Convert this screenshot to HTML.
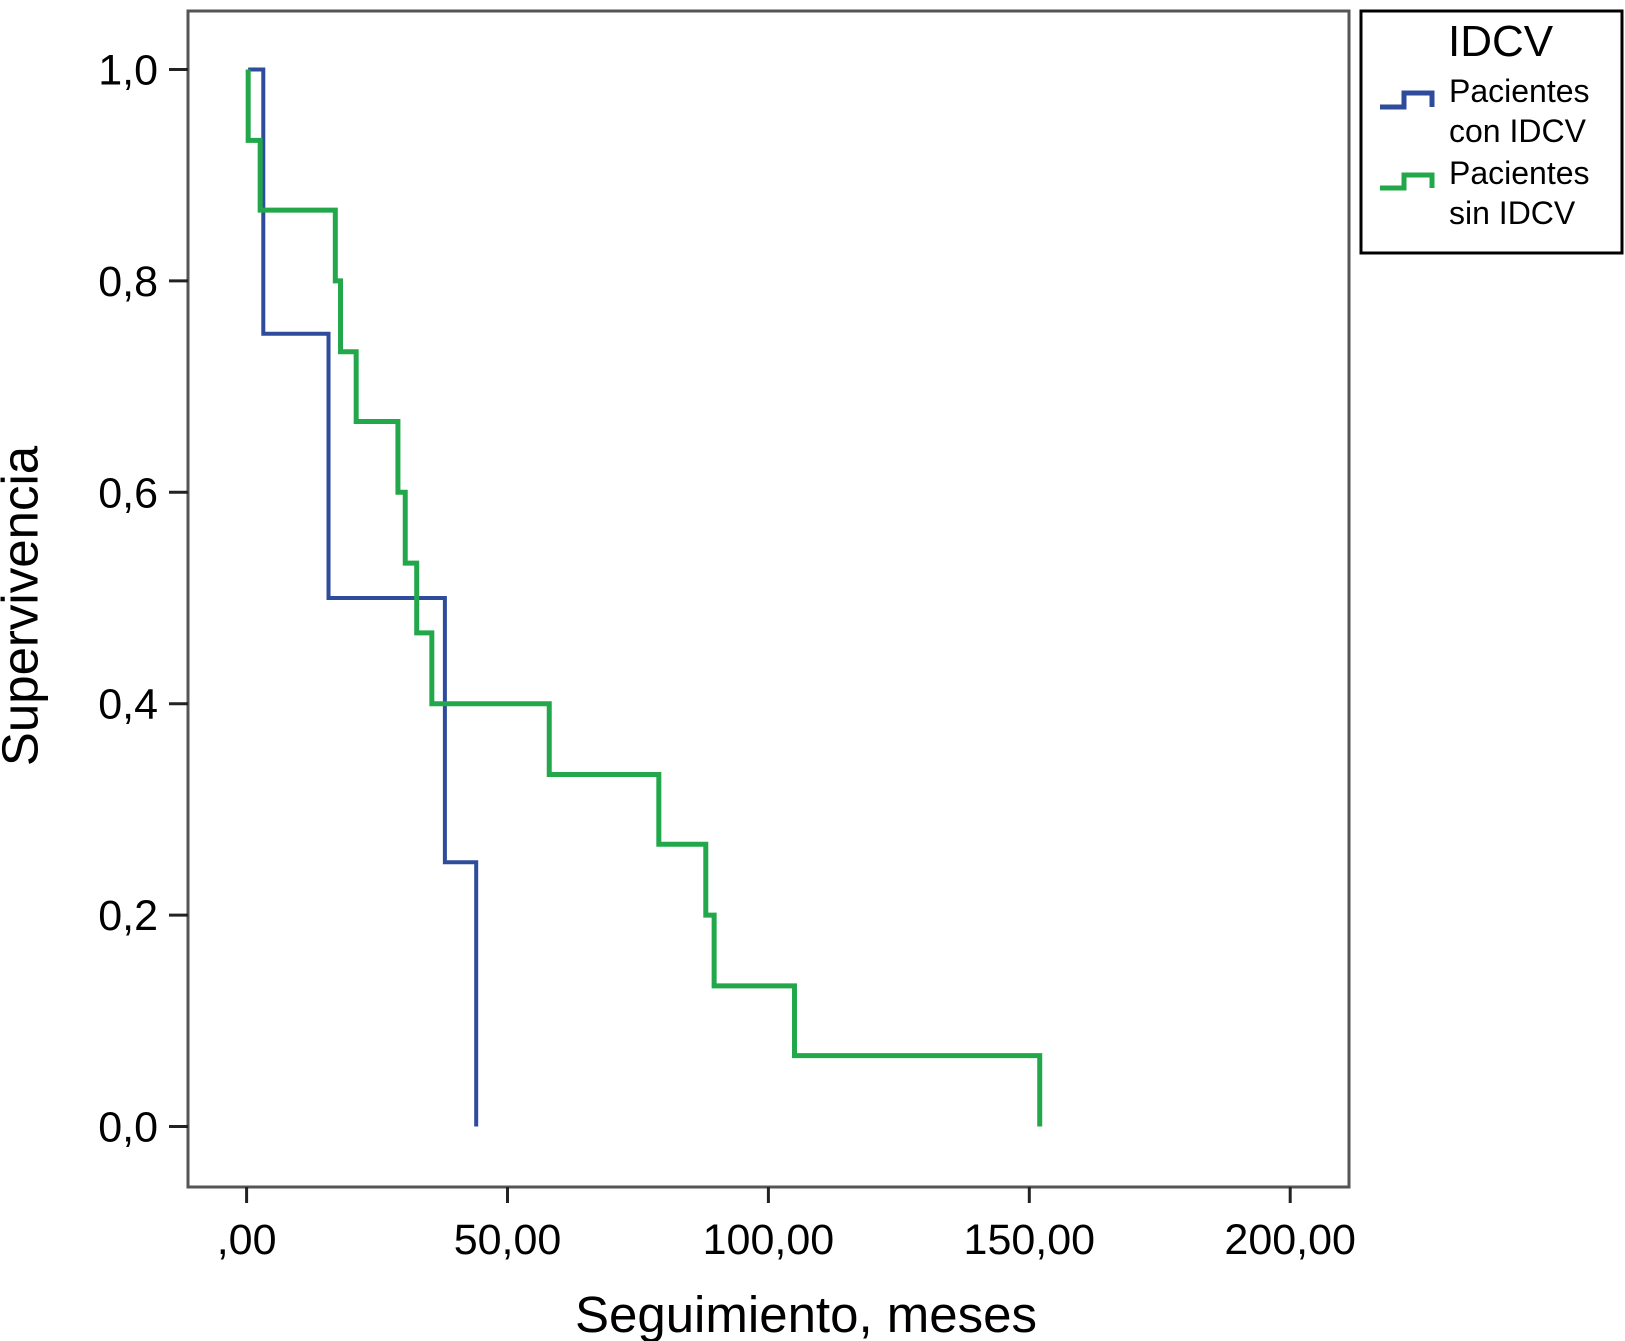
<!DOCTYPE html>
<html><head><meta charset="utf-8"><style>
body{margin:0;background:#fff;}
svg{display:block;font-family:"Liberation Sans",sans-serif;}
</style></head><body>
<svg width="1625" height="1341" viewBox="0 0 1625 1341">
<rect x="188" y="11" width="1161" height="1176" fill="none" stroke="#555" stroke-width="3"/>
<g id="axes"></g>
<g id="series"></g>
<text x="24" y="606" font-size="51" text-anchor="middle" transform="rotate(-90 24 606)" dominant-baseline="middle">Supervivencia</text>
<text x="806" y="1332" font-size="51" text-anchor="middle">Seguimiento, meses</text>
<g>
<rect x="1361" y="11" width="261" height="242" fill="#fff" stroke="#000" stroke-width="3"/>
<text x="1448" y="56" font-size="44">IDCV</text>
<path d="M1380 107 H1404 V93 H1432 V107" fill="none" stroke="#2e4b9c" stroke-width="5"/>
<text x="1449" y="102" font-size="32">Pacientes</text>
<text x="1449" y="142" font-size="32">con IDCV</text>
<path d="M1380 188 H1404 V175 H1432 V188" fill="none" stroke="#22a84a" stroke-width="5"/>
<text x="1449" y="184" font-size="32">Pacientes</text>
<text x="1449" y="224" font-size="32">sin IDCV</text>
</g>
</svg>
<script>
const xTicks=[0,50,100,150,200];
const xTickLabels=[",00","50,00","100,00","150,00","200,00"];
const yTicks=[0,0.2,0.4,0.6,0.8,1.0];
const yTickLabels=["0,0","0,2","0,4","0,6","0,8","1,0"];
const conTimes=[0.3,3.2,15.7,38,44];
const conSurv=[1.0,0.75,0.5,0.25,0.0];
const sinTimes=[0.3,2.6,17,18,21,29,30.4,32.6,35.5,58,79,88,89.6,105,152];
const sinSurv=[1.0,0.933,0.867,0.8,0.733,0.667,0.6,0.533,0.467,0.4,0.333,0.267,0.2,0.133,0.067,0.0];
const NS="http://www.w3.org/2000/svg";
const xs=v=>246.6+v*5.218;
const ys=v=>1126.5-v*1057;
const axes=document.getElementById('axes');
xTicks.forEach((t,i)=>{
 const l=document.createElementNS(NS,'line');
 l.setAttribute('x1',xs(t));l.setAttribute('x2',xs(t));l.setAttribute('y1',1187);l.setAttribute('y2',1203);
 l.setAttribute('stroke','#222');l.setAttribute('stroke-width','3');
 
 
 axes.appendChild(l);
 const tx=document.createElementNS(NS,'text');
 tx.setAttribute('x',xs(t));tx.setAttribute('y',1254);tx.setAttribute('font-size','43');tx.setAttribute('text-anchor','middle');
 tx.textContent=xTickLabels[i];
 
 
 axes.appendChild(tx);
});
yTicks.forEach((t,i)=>{
 const l=document.createElementNS(NS,'line');
 l.setAttribute('x1',169);l.setAttribute('x2',188);l.setAttribute('y1',ys(t));l.setAttribute('y2',ys(t));
 l.setAttribute('stroke','#222');l.setAttribute('stroke-width','3');
 
 
 axes.appendChild(l);
 const tx=document.createElementNS(NS,'text');
 tx.setAttribute('x',158);tx.setAttribute('y',ys(t)+15);tx.setAttribute('font-size','43');tx.setAttribute('text-anchor','end');
 tx.textContent=yTickLabels[i];
 
 
 axes.appendChild(tx);
});
function drawStep(times,surv,color,w,name,lead){
 let d='M'+xs(times[0])+' '+ys(1.0);
 for(let i=0;i<times.length;i++){
  const next=lead?surv[i+1]:surv[i];
  if(i>0||lead){d+=' H'+xs(times[i])+' V'+ys(next);}
 }
 const p=document.createElementNS(NS,'path');
 p.setAttribute('d',d);p.setAttribute('fill','none');p.setAttribute('stroke',color);p.setAttribute('stroke-width',w);
 
 
 document.getElementById('series').appendChild(p);
}
drawStep(conTimes,conSurv,'#2e4b9c','4','curve-con-idcv',false);
drawStep(sinTimes,sinSurv,'#22a84a','5','curve-sin-idcv',true);
</script>
</body></html>
